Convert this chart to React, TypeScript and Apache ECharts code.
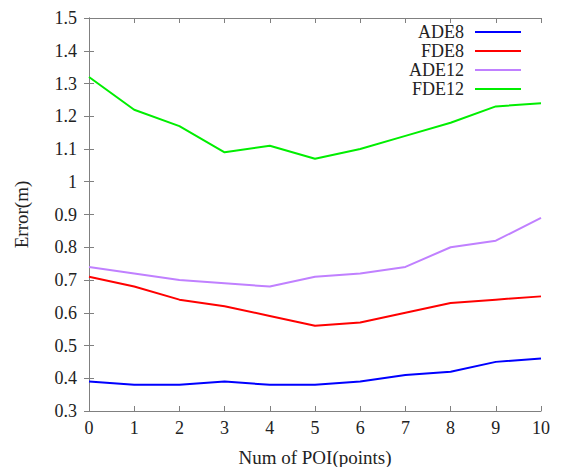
import React, { useEffect, useRef } from "react";
import * as echarts from "echarts";

const poi = [0, 1, 2, 3, 4, 5, 6, 7, 8, 9, 10];
const ade8 = [0.39, 0.38, 0.38, 0.39, 0.38, 0.38, 0.39, 0.41, 0.42, 0.45, 0.46];
const fde8 = [0.71, 0.68, 0.64, 0.62, 0.59, 0.56, 0.57, 0.6, 0.63, 0.64, 0.65];
const ade12 = [0.74, 0.72, 0.7, 0.69, 0.68, 0.71, 0.72, 0.74, 0.8, 0.82, 0.89];
const fde12 = [1.32, 1.22, 1.17, 1.09, 1.11, 1.07, 1.1, 1.14, 1.18, 1.23, 1.24];
const seriesNames = ["ADE8", "FDE8", "ADE12", "FDE12"];
const seriesColors = ["#0000ff", "#ff0000", "#c080ff", "#00ee00"];

const FONT = "'Liberation Serif', 'Times New Roman', serif";

export default function App() {
  const ref = useRef<HTMLDivElement>(null);
  useEffect(() => {
    if (!ref.current) return;
    const chart = echarts.init(ref.current, null, { renderer: "svg" });
    const all = [ade8, fde8, ade12, fde12];
    const axisLine = { show: true, lineStyle: { color: "#808080", width: 1 } };
    const tick = { show: true, inside: true, length: 5, lineStyle: { color: "#808080" } };
    chart.setOption({
      animation: false,
      textStyle: { fontFamily: FONT },
      grid: { left: 89, right: 20, top: 18, bottom: 56, containLabel: false, outerBoundsMode: "none" },
      legend: {
        orient: "vertical",
        right: 35,
        top: 18,
        align: "right",
        itemWidth: 46,
        itemHeight: 2,
        itemGap: 1,
        icon: "rect",
        textStyle: {
          fontFamily: FONT,
          fontSize: 18,
          color: "#222",
          lineHeight: 17,
          padding: [0, 6, 0, 0],
        },
        data: seriesNames,
      },
      xAxis: [
        {
          type: "value",
          min: 0,
          max: 10,
          interval: 1,
          name: "Num of POI(points)",
          nameLocation: "middle",
          nameGap: 36,
          nameTextStyle: { fontFamily: FONT, fontSize: 19, color: "#222", lineHeight: 20 },
          axisLine,
          axisTick: tick,
          splitLine: { show: false },
          axisLabel: { fontFamily: FONT, fontSize: 18, color: "#222", margin: 8 },
        },
        {
          type: "value",
          position: "top",
          min: 0,
          max: 10,
          interval: 1,
          axisLine,
          axisTick: tick,
          splitLine: { show: false },
          axisLabel: { show: false },
        },
      ],
      yAxis: [
        {
          type: "value",
          min: 0.3,
          max: 1.5,
          interval: 0.1,
          name: "Error(m)",
          nameLocation: "middle",
          nameGap: 58,
          nameTextStyle: { fontFamily: FONT, fontSize: 19, color: "#222" },
          axisLine,
          axisTick: tick,
          splitLine: { show: false },
          axisLabel: { fontFamily: FONT, fontSize: 18, color: "#222", margin: 12 },
        },
        {
          type: "value",
          position: "right",
          min: 0.3,
          max: 1.5,
          interval: 0.1,
          axisLine,
          axisTick: tick,
          splitLine: { show: false },
          axisLabel: { show: false },
        },
      ],
      series: seriesNames.map((name, i) => ({
        name,
        type: "line",
        xAxisIndex: 0,
        yAxisIndex: 0,
        showSymbol: false,
        symbol: "none",
        lineStyle: { color: seriesColors[i], width: 2 },
        itemStyle: { color: seriesColors[i] },
        data: poi.map((x, j) => [x, all[i][j]]),
      })),
    });
    return () => chart.dispose();
  }, []);
  return <div ref={ref} style={{ width: 561, height: 467, position: "absolute", left: 0, top: 0 }} />;
}
